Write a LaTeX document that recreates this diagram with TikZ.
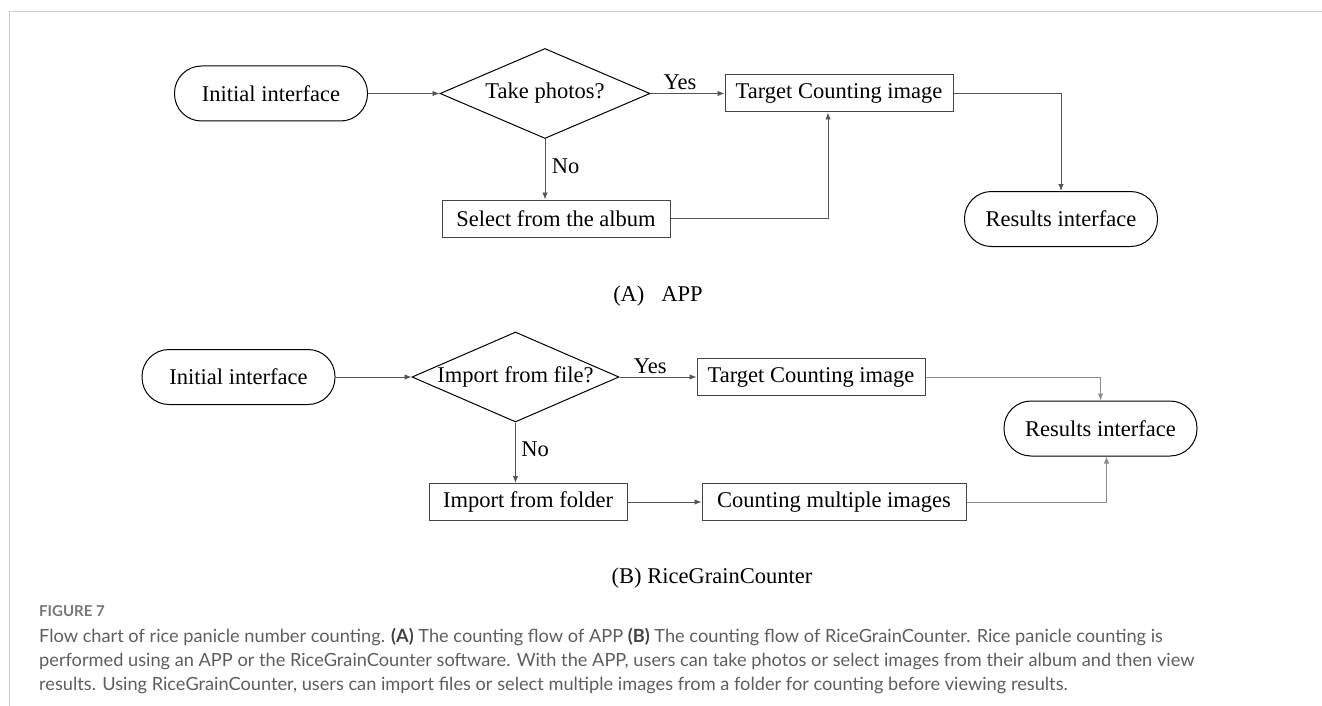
\documentclass[tikz,border=0pt]{standalone}
\usepackage{fontspec}
\setmainfont{Liberation Serif}
\newfontfamily\capfont{Lato}
\usetikzlibrary{shapes.geometric,arrows.meta}

\definecolor{framegray}{HTML}{CCCCCC}
\definecolor{linegray}{HTML}{555555}
\definecolor{lightline}{HTML}{8C8C8C}
\definecolor{boxgray}{HTML}{444444}
\definecolor{captext}{HTML}{5E5E5E}

\tikzset{
	every node/.style={font=\fontsize{22.5}{27}\selectfont},
	stadium/.style={draw,line width=1pt,rounded corners=27pt,minimum width=193pt,minimum height=55pt,inner sep=0pt},
	decision/.style={draw,diamond,aspect=2.3,line width=1pt,inner sep=0pt,minimum height=90pt},
	procbox/.style={draw=boxgray,line width=1pt,minimum height=37pt,inner sep=0pt},
	flow/.style={draw=linegray,line width=0.9pt,-{Latex[length=7pt,width=5.5pt]}},
	flowlight/.style={flow,draw=lightline},
	captext/.style={anchor=west,inner sep=0pt,text=captext,font=\capfont\fontsize{18.2}{22}\selectfont}
}

\begin{document}
\begin{tikzpicture}[x=1pt,y=-1pt]
	\useasboundingbox (0,0) rectangle (1322,706);
	\draw[framegray,line width=1pt] (1322,12) -- (9,12) -- (9,706);
	%
	% (A) APP
	\node[stadium] (initA) at (271,93.5) {Initial interface};
	\node[decision,minimum width=210pt] (takeA) at (545,93.5) {Take photos?};
	\node[procbox,minimum width=228pt] (targetA) at (839,93.5) {Target Counting image};
	\node[procbox,minimum width=228pt] (selectA) at (556,218.5) {Select from the album};
	\node[stadium] (resA) at (1061,219) {Results interface};
	\node (capA) at (658,296) {(A)\hspace{17pt}APP};
	\draw[flow] (initA.east) -- (takeA.west);
	\draw[flow] (takeA.east) -- node[pos=0.4,above] (yesA) {Yes} (targetA.west);
	\draw[flow] (takeA.south) -- node[pos=0.45,right,xshift=3pt] (noA) {No} (takeA.south |- selectA.north);
	\draw[flow] (selectA.east) -| ([xshift=-11pt]targetA.south);
	\draw[flow] (targetA.east) -| (resA.north);
	%
	% (B) RiceGrainCounter
	\node[stadium] (initB) at (238.5,377) {Initial interface};
	\node[decision,minimum width=207pt] (impB) at (515.5,377) {Import from file?};
	\node[procbox,minimum width=228pt] (targetB) at (811,377) {Target Counting image};
	\node[procbox,minimum width=198pt] (folderB) at (528,502) {Import from folder};
	\node[procbox,minimum width=264pt] (countB) at (834,502) {Counting multiple images};
	\node[stadium] (resB) at (1100.5,428.5) {Results interface};
	\node (capB) at (712,578) {(B) RiceGrainCounter};
	\draw[flow] (initB.east) -- (impB.west);
	\draw[flow] (impB.east) -- node[pos=0.4,above] (yesB) {Yes} (targetB.west);
	\draw[flow] (impB.south) -- node[pos=0.45,right,xshift=2pt] (noB) {No} (impB.south |- folderB.north);
	\draw[flow] (folderB.east) -- (countB.west);
	\draw[flowlight] (targetB.east) -| (resB.north);
	\draw[flowlight] (countB.east) -| ([xshift=6pt]resB.south);
	%
	% figure caption
	\node[captext,font=\capfont\bfseries\fontsize{15}{18}\selectfont,text=captext!85] (figno) at (39,611) {FIGURE 7};
	\node[captext] (capone) at (39,637) {Flow chart of rice panicle number counting. \textbf{\color{boxgray}(A)} The counting flow of APP \textbf{\color{boxgray}(B)} The counting flow of RiceGrainCounter. Rice panicle counting is};
	\node[captext] (captwo) at (39,661) {performed using an APP or the RiceGrainCounter software. With the APP, users can take photos or select images from their album and then view};
	\node[captext] (capthree) at (39,685) {results. Using RiceGrainCounter, users can import files or select multiple images from a folder for counting before viewing results.};
\end{tikzpicture}
\end{document}
